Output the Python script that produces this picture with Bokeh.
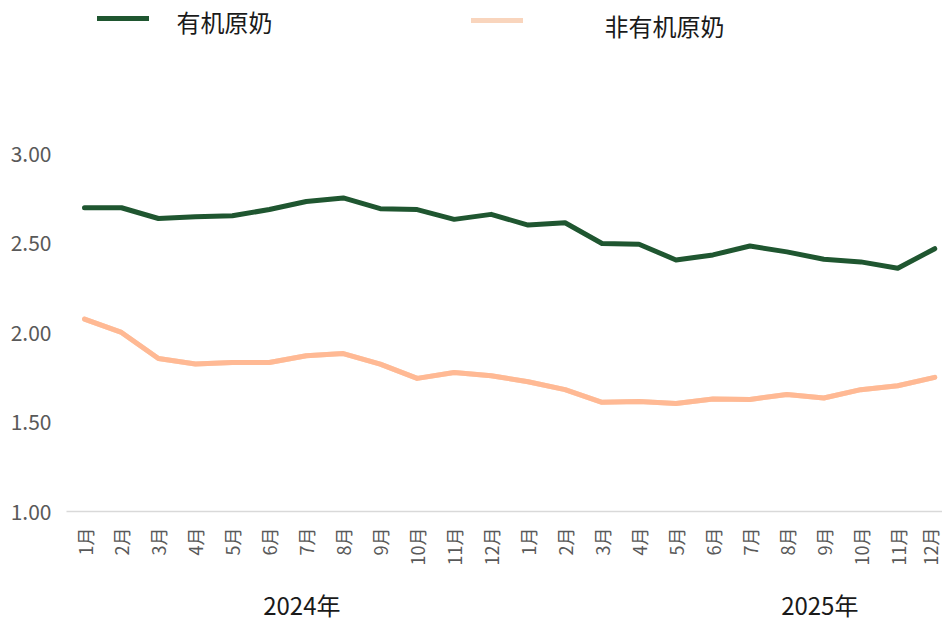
import math
from bokeh.plotting import figure
from bokeh.models import (FixedTicker, NumeralTickFormatter, Range1d, Legend, LegendItem,
                          LinearAxis, ColumnDataSource, Label)
from bokeh.embed import file_html
from bokeh.resources import INLINE

months = ["1月", "2月", "3月", "4月", "5月", "6月", "7月", "8月", "9月", "10月", "11月", "12月",
          "1月", "2月", "3月", "4月", "5月", "6月", "7月", "8月", "9月", "10月", "11月", "12月"]
years = ["2024年", "2025年"]
organic = [2.70, 2.70, 2.64, 2.65, 2.655, 2.69, 2.735, 2.755, 2.695, 2.69, 2.635, 2.663,
           2.603, 2.616, 2.50, 2.496, 2.408, 2.436, 2.486, 2.453, 2.412, 2.397, 2.361, 2.471]
non_organic = [2.077, 2.002, 1.856, 1.825, 1.834, 1.834, 1.872, 1.884, 1.825, 1.745, 1.778, 1.760,
               1.726, 1.682, 1.611, 1.616, 1.605, 1.630, 1.627, 1.655, 1.635, 1.682, 1.704, 1.751]
y_ticks = [1.0, 1.5, 2.0, 2.5, 3.0]
series_names = ["有机原奶", "非有机原奶"]

GREEN = "#1f5630"
ORANGE = "#ffb994"
ORANGE_LEG = "#f9d5bd"
FONT = "Noto Sans CJK SC"

x = list(range(len(months)))
src = ColumnDataSource(dict(x=x, organic=organic, non_organic=non_organic))

X0, X1 = -0.487, 23.21
p = figure(width=942, height=624, output_backend="svg", toolbar_location=None,
           x_range=Range1d(X0, X1), y_range=Range1d(1.0, 3.86),
           min_border_left=66, min_border_right=0, min_border_top=0, min_border_bottom=101)
p.outline_line_color = None
p.xgrid.visible = False
p.ygrid.visible = False

r_org = p.line("x", "organic", source=src, line_color=GREEN, line_width=5,
               line_cap="round", line_join="round")
# legend swatch renderer for the non-organic series (paler colour), hidden under the real line
r_non_leg = p.line("x", "non_organic", source=src, line_color=ORANGE_LEG, line_width=5,
                   line_cap="round", line_join="round")
r_non = p.line("x", "non_organic", source=src, line_color=ORANGE, line_width=5,
               line_cap="round", line_join="round")

# month axis
xa = p.xaxis[0]
xa.ticker = FixedTicker(ticks=x)
xa.major_label_overrides = {i: m for i, m in enumerate(months)}
xa.major_label_orientation = math.pi / 2
xa.major_tick_out = 0
xa.major_tick_in = 0
xa.minor_tick_out = 0
xa.minor_tick_in = 0
xa.axis_line_color = "#d9d9d9"
xa.axis_line_width = 1.5
xa.major_label_text_font = FONT
xa.major_label_text_font_size = "18px"
xa.major_label_text_color = "#595959"
xa.major_label_standoff = 16

# year axis (second level)
year_pos = [5.88, 19.89]
span = year_pos[1] - year_pos[0]
p.extra_x_ranges = {"yr": Range1d((X0 - year_pos[0]) / span, (X1 - year_pos[0]) / span)}
yr_axis = LinearAxis(x_range_name="yr", ticker=FixedTicker(ticks=[0, 1]),
                     major_label_overrides={0: years[0], 1: years[1]},
                     axis_line_color=None, major_tick_out=0, major_tick_in=0,
                     minor_tick_out=0, minor_tick_in=0, major_label_standoff=18,
                     major_label_text_font=FONT, major_label_text_font_size="24px",
                     major_label_text_color="#1a1a1a")
p.add_layout(yr_axis, "below")

ya = p.yaxis[0]
ya.ticker = FixedTicker(ticks=y_ticks)
ya.formatter = NumeralTickFormatter(format="0.00")
ya.axis_line_color = None
ya.major_tick_out = 0
ya.major_tick_in = 0
ya.minor_tick_out = 0
ya.minor_tick_in = 0
ya.major_label_text_font = FONT
ya.major_label_text_font_size = "21px"
ya.major_label_text_color = "#595959"
ya.major_label_standoff = 15

# legends: swatches from Legend (label text hidden), texts as Labels
leg_specs = [(r_org, series_names[0], 31, 476, 26, 110, 490),
             (r_non_leg, series_names[1], 405, 474, 80, 538, 486)]
for r, name, lx, ly, standoff, tx, ty in leg_specs:
    lg = Legend(items=[LegendItem(label=name, renderers=[r])], location=(lx, ly),
                glyph_width=52, glyph_height=8, label_height=22, label_standoff=standoff,
                padding=0, margin=0, border_line_color=None, background_fill_alpha=0,
                label_text_font=FONT, label_text_font_size="24px", label_text_alpha=0)
    p.add_layout(lg, "center")
    p.add_layout(Label(x=tx, y=ty, x_units="screen", y_units="screen", text=name,
                       text_align="left", text_baseline="middle", text_font=FONT,
                       text_font_size="24px", text_color="#1a1a1a"))

open("out.html", "w").write(file_html(p, INLINE))
